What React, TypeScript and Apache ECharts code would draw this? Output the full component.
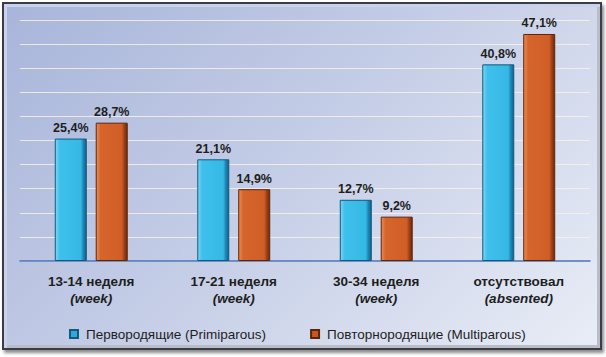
import React, { useEffect, useRef } from "react";
import * as echarts from "echarts";

const categories = ["13-14 неделя\n(week)", "17-21 неделя\n(week)", "30-34 неделя\n(week)", "отсутствовал\n(absented)"];
const primiparous = [25.4, 21.1, 12.7, 40.8];
const multiparous = [28.7, 14.9, 9.2, 47.1];
const seriesNames = ["Первородящие (Primiparous)", "Повторнородящие (Multiparous)"];

const fmt = (v: number) => v.toFixed(1).replace(".", ",") + "%";

export default function App() {
  const ref = useRef<HTMLDivElement>(null);
  useEffect(() => {
    if (!ref.current) return;
    const chart = echarts.init(ref.current, undefined, { renderer: "svg" });
    const blueFill = new echarts.graphic.LinearGradient(0, 0, 1, 0, [
      { offset: 0, color: "#7fd6f5" },
      { offset: 0.14, color: "#3fc0ec" },
      { offset: 0.82, color: "#36b8e6" },
      { offset: 0.9, color: "#1e88b8" },
      { offset: 1, color: "#145f86" },
    ]);
    const orangeFill = new echarts.graphic.LinearGradient(0, 0, 1, 0, [
      { offset: 0, color: "#ee8c55" },
      { offset: 0.14, color: "#d6652c" },
      { offset: 0.82, color: "#d05e26" },
      { offset: 0.9, color: "#9e4216" },
      { offset: 1, color: "#6e2a0b" },
    ]);
    const font = "Liberation Sans, Arial, sans-serif";
    const labelCfg = {
      show: true,
      position: "top",
      distance: 4,
      fontFamily: font,
      fontWeight: "bold",
      fontSize: 12.5,
      color: "#1e1e1e",
      formatter: (p: any) => fmt(p.value),
    };
    chart.setOption({
      animation: false,
      grid: { left: 20, right: 16, top: 20, bottom: 96 },
      legend: {
        bottom: 11,
        left: 64,
        itemWidth: 8,
        itemHeight: 8,
        itemGap: 44,
        icon: "rect",
        textStyle: { fontFamily: font, fontSize: 13.5, color: "#1e1e1e", padding: [0, 0, 0, 3] },
        data: [
          { name: seriesNames[0], itemStyle: { color: "#2fa8dc" } },
          { name: seriesNames[1], itemStyle: { color: "#c9561e" } },
        ],
      },
      xAxis: {
        type: "category",
        data: categories,
        axisLine: { lineStyle: { color: "#4a72b8", width: 1.5 } },
        axisTick: { show: false },
        axisLabel: {
          margin: 12,
          interval: 0,
          formatter: (v: string) => {
            const [a, b] = v.split("\n");
            return "{a|" + a + "}\n{b|" + b + "}";
          },
          rich: {
            a: { fontFamily: font, fontWeight: "bold", fontSize: 13.5, color: "#1e1e1e", lineHeight: 17 },
            b: { fontFamily: font, fontStyle: "italic", fontWeight: "bold", fontSize: 13.5, color: "#1e1e1e", lineHeight: 17 },
          },
        },
      },
      yAxis: {
        type: "value",
        min: 0,
        max: 50,
        interval: 5,
        axisLabel: { show: false },
        axisLine: { show: false },
        axisTick: { show: false },
        splitLine: { lineStyle: { color: "rgba(250,240,228,0.85)", width: 1 } },
      },
      series: [
        {
          name: seriesNames[0],
          type: "bar",
          data: primiparous,
          barWidth: 32,
          barGap: "28%",
          itemStyle: { color: blueFill, borderColor: "#0f5a7e", borderWidth: 1 },
          label: labelCfg,
        },
        {
          name: seriesNames[1],
          type: "bar",
          data: multiparous,
          barWidth: 32,
          itemStyle: { color: orangeFill, borderColor: "#5e2409", borderWidth: 1 },
          label: labelCfg,
        },
      ],
    });
    return () => chart.dispose();
  }, []);
  return (
    <div style={{ position: "absolute", left: 0, top: 0, width: 606, height: 357, background: "#ffffff" }}>
      <div
        style={{
          position: "absolute",
          left: 2,
          top: 2,
          width: 596,
          height: 344,
          border: "2px solid #3c3c44",
          background: "linear-gradient(135deg, #a8b5da 0%, #c3cce6 45%, #e9edf6 100%)",
          boxShadow: "inset 3px 3px 0 #c9d2ec, inset -3px -3px 0 #b9bdc8, 2px 3px 3px rgba(0,0,0,0.45)",
        }}
      />
      <div ref={ref} style={{ position: "absolute", left: 0, top: 0, width: 606, height: 357 }} />
    </div>
  );
}
